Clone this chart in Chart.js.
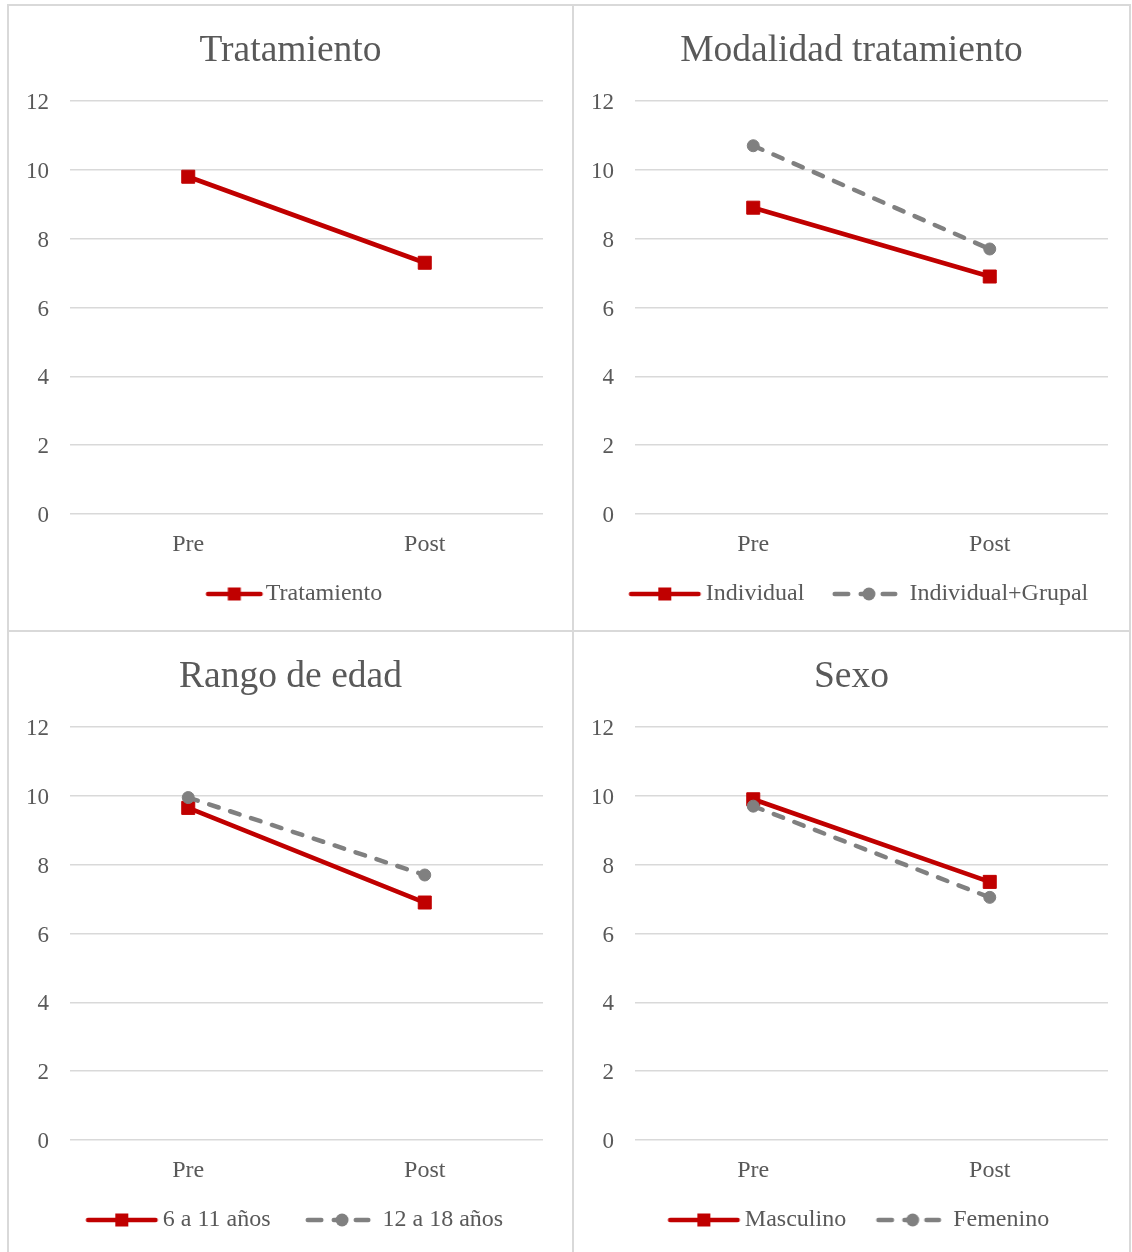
<!DOCTYPE html>
<html>
<head>
<meta charset="utf-8">
<script src="https://cdn.jsdelivr.net/npm/chart.js@4.4.1/dist/chart.umd.min.js"></script>
<style>
  html, body { margin: 0; padding: 0; background: #ffffff; }
  body { width: 1132px; height: 1252px; position: relative; overflow: hidden; }
  .rule { position: absolute; background: #d9d9d9; }
  .panel { position: absolute; }
  .panel canvas { display: block; }
</style>
</head>
<body>
<div class="rule" style="left:7px;top:4px;width:1124px;height:2px"></div>
<div class="rule" style="left:7px;top:4px;width:2px;height:1248px"></div>
<div class="rule" style="left:1129px;top:4px;width:2px;height:1248px"></div>
<div class="rule" style="left:572px;top:4px;width:2px;height:1248px"></div>
<div class="rule" style="left:7px;top:630px;width:1124px;height:2px"></div>

<div class="panel" style="left:9px;top:6px"><canvas id="c1" width="563" height="624"></canvas></div>
<div class="panel" style="left:574px;top:6px"><canvas id="c2" width="555" height="624"></canvas></div>
<div class="panel" style="left:9px;top:632px"><canvas id="c3" width="563" height="620"></canvas></div>
<div class="panel" style="left:574px;top:632px"><canvas id="c4" width="555" height="620"></canvas></div>

<script>
// Mean scores before and after treatment
const categories = ['Pre', 'Post'];
const yTicks = [0, 2, 4, 6, 8, 10, 12];

const tratamiento = [9.8, 7.3];
const individual = [8.9, 6.9];
const individualGrupal = [10.7, 7.7];
const edad6a11 = [9.65, 6.9];
const edad12a18 = [9.95, 7.7];
const masculino = [9.9, 7.5];
const femenino = [9.7, 7.05];

const RED = '#c00000';
const GRAY = '#808080';
const TEXT = '#595959';
const GRID = '#d9d9d9';
const FONT = "'Liberation Serif', 'Times New Roman', serif";

// Legend symbol: a short line with the series marker, drawn into a small canvas.
// s = where the symbol starts inside the legend box, len = symbol length.
function legendIcon(kind, boxW, s, len) {
  const half = Math.ceil(Math.max(boxW / 2 - s, s + len - boxW / 2)) + 2;
  const c = document.createElement('canvas');
  c.width = half * 2;
  c.height = 20;
  const g = c.getContext('2d');
  const x0 = half - boxW / 2 + s;
  const cy = 10;
  g.lineCap = 'round';
  g.lineWidth = 4.5;
  if (kind === 'solid') {
    g.strokeStyle = RED;
    g.beginPath();
    g.moveTo(x0 + 2.25, cy);
    g.lineTo(x0 + len - 2.25, cy);
    g.stroke();
    g.fillStyle = RED;
    g.fillRect(x0 + len / 2 - 6.5, cy - 6.5, 13, 13);
  } else {
    g.strokeStyle = GRAY;
    [[0, 18], [26, 37], [48, 65]].forEach(([a, b]) => {
      g.beginPath();
      g.moveTo(x0 + a + 2.25, cy);
      g.lineTo(x0 + b - 2.25, cy);
      g.stroke();
    });
    g.fillStyle = GRAY;
    g.beginPath();
    g.arc(x0 + 36.5, cy, 6.5, 0, Math.PI * 2);
    g.fill();
  }
  return c;
}

function solidSeries(label, data) {
  return {
    label, data, kind: 'solid',
    borderColor: RED, backgroundColor: RED, borderWidth: 4.6,
    borderCapStyle: 'round',
    pointStyle: 'rect', pointRadius: 9.2, pointHoverRadius: 9.2,
    pointBackgroundColor: RED, pointBorderColor: RED, pointBorderWidth: 1,
    order: 2
  };
}

function dashedSeries(label, data) {
  return {
    label, data, kind: 'dashed',
    borderColor: GRAY, backgroundColor: GRAY, borderWidth: 4.5,
    borderDash: [10, 12], borderCapStyle: 'round',
    pointStyle: 'circle', pointRadius: 6, pointHoverRadius: 6,
    pointBackgroundColor: GRAY, pointBorderColor: GRAY, pointBorderWidth: 1,
    order: 1
  };
}

// shift: offset of the symbol inside its legend box; gap: spacing between legend entries
const panels = [
  { id: 'c1', title: 'Tratamiento', rightW: 29, shift: 7, gap: 14, redLen: 57,
    datasets: [solidSeries('Tratamiento', tratamiento)] },
  { id: 'c2', title: 'Modalidad tratamiento', rightW: 21, shift: 14, gap: 14, redLen: 72,
    datasets: [solidSeries('Individual', individual), dashedSeries('Individual+Grupal', individualGrupal)] },
  { id: 'c3', title: 'Rango de edad', rightW: 29, shift: 8, gap: 27, redLen: 72,
    datasets: [solidSeries('6 a 11 años', edad6a11), dashedSeries('12 a 18 años', edad12a18)] },
  { id: 'c4', title: 'Sexo', rightW: 21, shift: 14, gap: 16, redLen: 72,
    datasets: [solidSeries('Masculino', masculino), dashedSeries('Femenino', femenino)] }
];

panels.forEach(p => {
  const canvas = document.getElementById(p.id);
  const boxW = (p.redLen === 72 ? 65 : 48) + p.shift;
  const axisH = 68 - p.gap;
  const items = p.datasets.map((d, i) => ({
    text: d.label,
    pointStyle: legendIcon(d.kind, boxW, p.shift, d.kind === 'solid' ? p.redLen : 65),
    fillStyle: 'rgba(0,0,0,0)',
    strokeStyle: 'rgba(0,0,0,0)',
    lineWidth: 0,
    fontColor: TEXT,
    hidden: false,
    datasetIndex: i
  }));

  new Chart(canvas, {
    type: 'line',
    data: { labels: categories, datasets: p.datasets },
    options: {
      responsive: false,
      animation: false,
      layout: { padding: { top: 0, left: 0, right: 0, bottom: canvas.height - 610 } },
      plugins: {
        tooltip: { enabled: false },
        title: {
          display: true,
          text: p.title,
          color: TEXT,
          font: { family: FONT, size: 37.5, weight: 'normal' },
          padding: { top: 23, bottom: 27 }
        },
        legend: {
          position: 'bottom',
          labels: {
            usePointStyle: true,
            pointStyleWidth: boxW,
            padding: p.gap,
            color: TEXT,
            font: { family: FONT, size: 24 },
            generateLabels: () => items
          }
        }
      },
      scales: {
        x: {
          offset: true,
          grid: { display: false },
          border: { display: false },
          ticks: { color: TEXT, font: { family: FONT, size: 24 }, padding: 8 },
          afterFit: s => { s.height = axisH; }
        },
        y: {
          min: yTicks[0],
          max: yTicks[yTicks.length - 1],
          ticks: { stepSize: yTicks[1] - yTicks[0], color: TEXT, font: { family: FONT, size: 23 }, padding: 21, labelOffset: 2 },
          grid: { color: GRID, lineWidth: 1.5, drawTicks: false },
          border: { display: false },
          afterFit: s => { s.width = 61; }
        },
        yRight: {
          position: 'right',
          grid: { display: false },
          ticks: { display: false },
          border: { display: false },
          afterFit: s => { s.width = p.rightW; }
        }
      }
    }
  });
});
</script>
</body>
</html>
